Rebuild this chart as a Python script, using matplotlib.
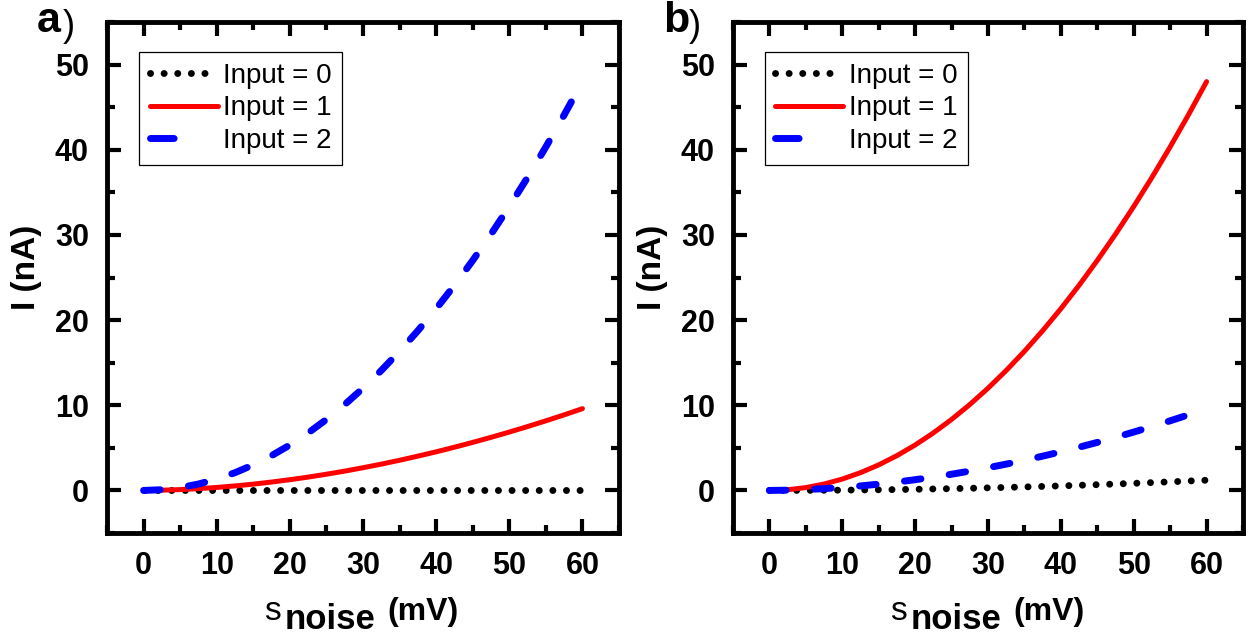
import matplotlib
matplotlib.use("Agg")
import matplotlib.pyplot as plt
from matplotlib.lines import Line2D
from matplotlib.ticker import MultipleLocator

plt.rcParams['font.family'] = ['Liberation Sans', 'DejaVu Sans']

# noise amplitude (mV)
s_noise = [0, 2.5, 5, 7.5, 10, 12.5, 15, 17.5, 20, 22.5, 25, 27.5, 30,
           32.5, 35, 37.5, 40, 42.5, 45, 47.5, 50, 52.5, 55, 57.5, 60]

# current (nA)
i_flat = [0.0] * len(s_noise)
i_small = [0.0, 0.002, 0.008, 0.019, 0.033, 0.052, 0.075, 0.102, 0.133,
           0.169, 0.208, 0.252, 0.30, 0.352, 0.408, 0.469, 0.533, 0.602,
           0.675, 0.752, 0.833, 0.919, 1.008, 1.102, 1.2]
i_mid = [0.0, 0.027, 0.097, 0.205, 0.349, 0.527, 0.738, 0.983, 1.258,
         1.564, 1.901, 2.267, 2.664, 3.088, 3.541, 4.024, 4.531, 5.073,
         5.638, 6.231, 6.851, 7.499, 8.172, 8.872, 9.6]
i_big = [0.0, 0.083, 0.333, 0.75, 1.333, 2.083, 3.0, 4.083, 5.333, 6.75,
         8.333, 10.083, 12.0, 14.083, 16.333, 18.75, 21.333, 24.083, 27.0,
         30.083, 33.333, 36.75, 40.333, 44.083, 48.0]

panel_a = {'Input = 0': i_flat, 'Input = 1': i_mid, 'Input = 2': i_big}
panel_b = {'Input = 0': i_small, 'Input = 1': i_big, 'Input = 2': i_mid}

W, H = 1253, 634
styles = {
    'Input = 0': dict(color='black', lw=5, linestyle=(0, (0.01, 1.95)),
                      dash_capstyle='round'),
    'Input = 1': dict(color='red', lw=3.6, linestyle='-',
                      solid_capstyle='round'),
    'Input = 2': dict(color='blue', lw=5, linestyle=(0, (2.4, 4.1)),
                      dash_capstyle='round'),
}
legend_styles = dict(styles)
legend_styles['Input = 2'] = dict(color='blue', lw=5,
                                  linestyle=(0, (3.4, 20)),
                                  dash_capstyle='round')

fig = plt.figure(figsize=(W / 100, H / 100), dpi=100)


def px_axes(left, right, top, bottom):
    return fig.add_axes([left / W, 1 - bottom / H,
                         (right - left) / W, (bottom - top) / H])


def draw_panel(ax, data, dx, letter):
    for name, vals in data.items():
        ax.plot(s_noise, vals, **styles[name])
    ax.set_xlim(-5, 65)
    ax.set_ylim(-5, 55)
    ax.xaxis.set_major_locator(MultipleLocator(10))
    ax.xaxis.set_minor_locator(MultipleLocator(5))
    ax.yaxis.set_major_locator(MultipleLocator(10))
    ax.yaxis.set_minor_locator(MultipleLocator(5))
    ax.tick_params(which='both', direction='in', top=True, right=True,
                   width=3, labelsize=22)
    ax.tick_params(which='major', length=10)
    ax.tick_params(which='minor', length=6)
    ax.tick_params(axis='x', which='major', pad=13)
    ax.tick_params(axis='y', which='major', pad=13)
    for lab in ax.get_xticklabels() + ax.get_yticklabels():
        lab.set_fontweight('bold')
    for sp in ax.spines.values():
        sp.set_linewidth(3.5)

    handles = [Line2D([], [], **legend_styles[n]) for n in data]
    leg = ax.legend(handles, list(data), loc='upper left',
                    bbox_to_anchor=(0.0625, 0.941), borderaxespad=0,
                    fontsize=20, handlelength=2.45, handletextpad=0.2,
                    borderpad=0.38, labelspacing=0.24, fancybox=False,
                    framealpha=1, edgecolor='black')
    leg.get_frame().set_linewidth(0.9)

    # x label: s_noise (mV), drawn in three pieces like the original
    fig.text((264 + dx) / W, 1 - 620 / H, 's', fontsize=24,
             va='baseline', ha='left')
    fig.text((285 + dx) / W, 1 - 629 / H, 'noise', fontsize=25,
             fontweight='bold', va='baseline', ha='left')
    fig.text((387 + dx) / W, 1 - 620 / H, '(mV)', fontsize=23,
             fontweight='bold', va='baseline', ha='left')
    fig.text((27 + dx) / W, 1 - 267 / H, 'I (nA)', fontsize=24,
             fontweight='bold', rotation=90, ha='center', va='center')

    # panel letter
    fig.text((37 + dx) / W, 1 - 32 / H, letter, fontsize=31,
             fontweight='bold', va='baseline', ha='left')
    fig.text((63 + dx) / W, 1 - 36 / H, ')', fontsize=26,
             va='baseline', ha='left')


ax_a = px_axes(107, 619, 22, 533)
ax_b = px_axes(733, 1243, 22, 533)
draw_panel(ax_a, panel_a, 0, 'a')
draw_panel(ax_b, panel_b, 626, 'b')

fig.savefig('out.png', dpi=100)
